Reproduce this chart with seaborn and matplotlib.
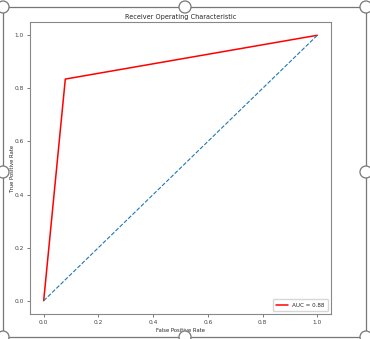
import matplotlib
matplotlib.use("Agg")
import matplotlib.pyplot as plt
from matplotlib.patches import Rectangle, Circle
import seaborn as sns
import pandas as pd

# ROC curve points
fpr = [0.0, 0.079, 1.0]
tpr = [0.0, 0.835, 1.0]
auc_label = "AUC = 0.88"
chance = [0.0, 1.0]

sns.set_style("ticks")
plt.rcParams['font.family'] = ['DejaVu Sans']

fig = plt.figure(figsize=(3.70, 3.39), dpi=100)
ax = fig.add_axes([30 / 370, 25 / 339, 301 / 370, 292 / 339])

roc = pd.DataFrame({'fpr': fpr, 'tpr': tpr})
sns.lineplot(data=roc, x='fpr', y='tpr', color='red', lw=1.1, label=auc_label,
             sort=False, estimator=None, ax=ax)
sns.lineplot(x=chance, y=chance, color='#1f77b4', lw=0.8, linestyle='--', ax=ax)

ax.set_title('Receiver Operating Characteristic', fontsize=4.7, pad=2.5)
ax.set_xlabel('False Positive Rate', fontsize=3.8, labelpad=2)
ax.set_ylabel('True Positive Rate', fontsize=3.8)
ax.yaxis.set_label_coords(-0.05, 0.5)
ax.set_xlim(-0.05, 1.05)
ax.set_ylim(-0.05, 1.05)
ax.set_xticks([0, 0.2, 0.4, 0.6, 0.8, 1.0])
ax.set_yticks([0, 0.2, 0.4, 0.6, 0.8, 1.0])
ax.tick_params(axis='both', labelsize=4.2, length=2, width=0.5, pad=2.5, colors='#444444')
for s in ax.spines.values():
    s.set_color('#888888')
    s.set_linewidth(0.8)
ax.legend(loc='lower right', fontsize=4.1, handlelength=2, borderpad=0.6, frameon=True)

# screenshot selection frame with handles
fig.patches.append(Rectangle((3 / 370, 2 / 339), 363 / 370, 330 / 339, transform=fig.transFigure,
                             fill=False, edgecolor='#777777', lw=0.9))
for cx, cy in [(3, 7), (185, 7), (366, 7), (3, 172), (366, 172), (3, 337), (185, 337), (366, 337)]:
    fig.patches.append(Circle((cx / 100, (339 - cy) / 100), 0.06, transform=fig.dpi_scale_trans,
                              facecolor='white', edgecolor='#777777', lw=0.9))

fig.savefig('out.png', dpi=100)
